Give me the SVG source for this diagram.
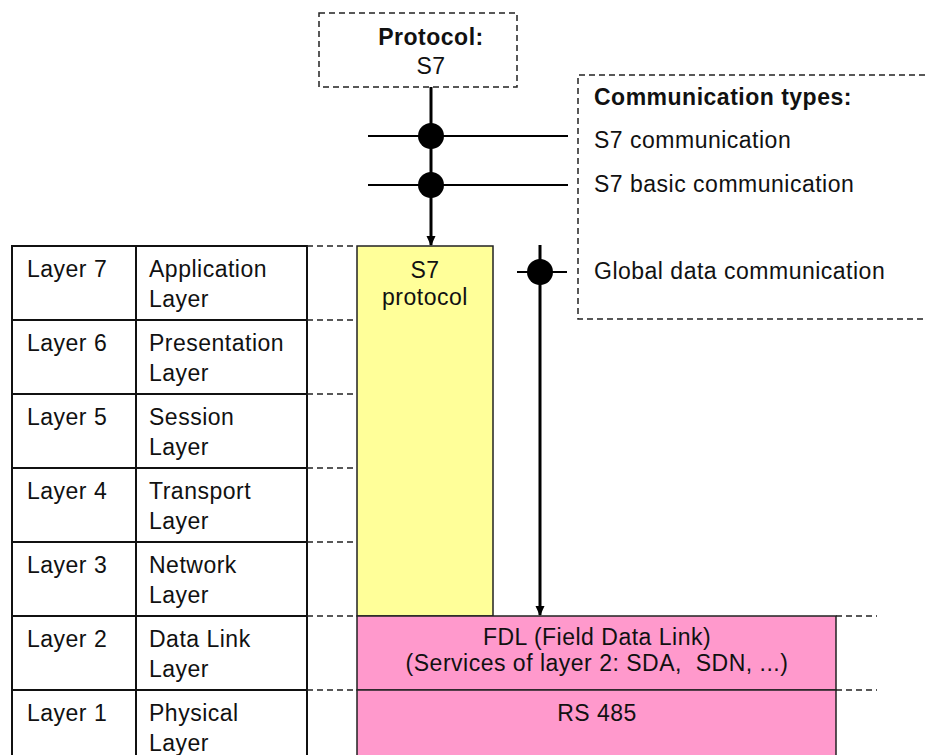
<svg xmlns="http://www.w3.org/2000/svg" width="925" height="755" viewBox="0 0 925 755">
<style>
text{font-family:"Liberation Sans",Arial,sans-serif;font-size:23px;letter-spacing:0.5px;fill:#111}
.b{font-weight:bold}
.m{text-anchor:middle}
.dash{fill:none;stroke:#222;stroke-width:1.5;stroke-dasharray:6 4}
.cell{fill:#fff;stroke:#111;stroke-width:2}
.ln{stroke:#000;stroke-width:1.8;fill:none}
.arr{stroke:#000;stroke-width:3;fill:none}
</style>
<defs>
<marker id="ah" markerWidth="10" markerHeight="10" refX="9" refY="5" orient="auto" markerUnits="userSpaceOnUse">
<path d="M0,0.5 L10,5 L0,9.5 Z" fill="#000"/>
</marker>
</defs>
<g id="protocol">
<rect x="319" y="13" width="198" height="74" class="dash"/>
<text x="431" y="45" class="b m">Protocol:</text>
<text x="431" y="74" class="m">S7</text>
</g>
<g id="commtypes">
<path d="M925,75 H578 V319 H925" class="dash"/>
<text x="594" y="105" class="b">Communication types:</text>
<text x="594" y="148">S7 communication</text>
<text x="594" y="192">S7 basic communication</text>
<text x="594" y="279">Global data communication</text>
</g>
<g id="table">
<rect x="12" y="246" width="124" height="74" class="cell"/>
<rect x="136" y="246" width="171" height="74" class="cell"/>
<rect x="12" y="320" width="124" height="74" class="cell"/>
<rect x="136" y="320" width="171" height="74" class="cell"/>
<rect x="12" y="394" width="124" height="74" class="cell"/>
<rect x="136" y="394" width="171" height="74" class="cell"/>
<rect x="12" y="468" width="124" height="74" class="cell"/>
<rect x="136" y="468" width="171" height="74" class="cell"/>
<rect x="12" y="542" width="124" height="74" class="cell"/>
<rect x="136" y="542" width="171" height="74" class="cell"/>
<rect x="12" y="616" width="124" height="74" class="cell"/>
<rect x="136" y="616" width="171" height="74" class="cell"/>
<rect x="12" y="690" width="124" height="74" class="cell"/>
<rect x="136" y="690" width="171" height="74" class="cell"/>
<text x="27" y="277">Layer 7</text><text x="149" y="277">Application</text><text x="149" y="307">Layer</text>
<text x="27" y="351">Layer 6</text><text x="149" y="351">Presentation</text><text x="149" y="381">Layer</text>
<text x="27" y="425">Layer 5</text><text x="149" y="425">Session</text><text x="149" y="455">Layer</text>
<text x="27" y="499">Layer 4</text><text x="149" y="499">Transport</text><text x="149" y="529">Layer</text>
<text x="27" y="573">Layer 3</text><text x="149" y="573">Network</text><text x="149" y="603">Layer</text>
<text x="27" y="647">Layer 2</text><text x="149" y="647">Data Link</text><text x="149" y="677">Layer</text>
<text x="27" y="721">Layer 1</text><text x="149" y="721">Physical</text><text x="149" y="751">Layer</text>
</g>
<g id="guides">
<path d="M307,246 H357 M307,320 H357 M307,394 H357 M307,468 H357 M307,542 H357 M307,616 H357 M307,690 H357 M836,616 H877 M836,690 H877" class="dash"/>
</g>
<g id="s7protocol">
<rect x="357" y="246" width="136" height="370" fill="#FFFF99" stroke="#222" stroke-width="1.5"/>
<text x="425" y="278" class="m">S7</text>
<text x="425" y="305" class="m">protocol</text>
</g>
<g id="fdl">
<rect x="357" y="616" width="479" height="74" fill="#FF99CC" stroke="#222" stroke-width="1.5"/>
<text x="597" y="645" class="m">FDL (Field Data Link)</text>
<text x="597" y="671" class="m">(Services of layer 2: SDA,&#160; SDN, ...)</text>
</g>
<g id="rs485">
<rect x="357" y="690" width="479" height="74" fill="#FF99CC" stroke="#222" stroke-width="1.5"/>
<text x="597" y="721" class="m">RS 485</text>
</g>
<g id="connectors">
<path d="M431,87 V245" class="arr" marker-end="url(#ah)"/>
<path d="M368,136 H568 M368,185 H568" class="ln"/>
<circle cx="431" cy="136" r="13" fill="#000"/>
<circle cx="431" cy="185" r="13" fill="#000"/>
<path d="M540,245 V615" class="arr" marker-end="url(#ah)"/>
<path d="M517,272 H567" class="ln"/>
<circle cx="540" cy="272" r="13" fill="#000"/>
</g>
</svg>
